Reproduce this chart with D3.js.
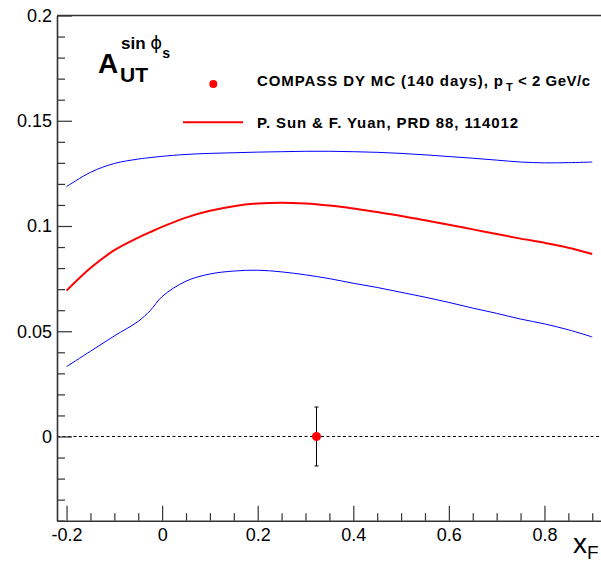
<!DOCTYPE html>
<html>
<head>
<meta charset="utf-8">
<script src="https://cdn.jsdelivr.net/npm/d3@7"></script>
<style>
  html, body { margin: 0; padding: 0; background: #fff; }
  svg { display: block; font-family: "Liberation Sans", Arial, Helvetica, sans-serif; }
</style>
</head>
<body>
<svg id="chart" width="601" height="562"></svg>
<script>
// ---- data ----
const xGrid = [-0.2, -0.15, -0.1, -0.05, -0.025, 0, 0.05, 0.1, 0.15, 0.2, 0.25, 0.3, 0.35, 0.4, 0.45, 0.5, 0.55, 0.6, 0.65, 0.7, 0.75, 0.8, 0.85, 0.9];
const centralCurve = [0.0693, 0.0800, 0.0885, 0.0945, 0.0971, 0.0996, 0.1040, 0.1072, 0.1094, 0.1107, 0.1111, 0.1107, 0.1097, 0.1083, 0.1066, 0.1048, 0.1027, 0.1006, 0.0984, 0.0962, 0.0940, 0.0920, 0.0897, 0.0867];
const upperBand = [0.1187, 0.1255, 0.1297, 0.1318, 0.1325, 0.1331, 0.1340, 0.1345, 0.1348, 0.1351, 0.1353, 0.1355, 0.1355, 0.1353, 0.1350, 0.1345, 0.1338, 0.1330, 0.1322, 0.1313, 0.1304, 0.1300, 0.1301, 0.1304];
const lowerBand = [0.0332, 0.0405, 0.0478, 0.0547, 0.0598, 0.0665, 0.0738, 0.0772, 0.0786, 0.0790, 0.0782, 0.0768, 0.0750, 0.0728, 0.0708, 0.0685, 0.0662, 0.0637, 0.0610, 0.0585, 0.0558, 0.0535, 0.0507, 0.0473];
const pointX = [0.323];
const pointY = [0.0];
const pointErr = [0.014];
const xMajorTicks = [-0.2, 0, 0.2, 0.4, 0.6, 0.8];
const xMinorTicks = [-0.15, -0.1, -0.05, 0.05, 0.1, 0.15, 0.25, 0.3, 0.35, 0.45, 0.5, 0.55, 0.65, 0.7, 0.75, 0.85, 0.9];
const xTickLabels = ["-0.2", "0", "0.2", "0.4", "0.6", "0.8"];
const yMajorTicks = [0, 0.05, 0.1, 0.15, 0.2];
const yMinorTicks = [-0.04, -0.03, -0.02, -0.01, 0.01, 0.02, 0.03, 0.04, 0.06, 0.07, 0.08, 0.09, 0.11, 0.12, 0.13, 0.14, 0.16, 0.17, 0.18, 0.19];
const yTickLabels = ["0", "0.05", "0.1", "0.15", "0.2"];
const legendPointLabel = "COMPASS DY MC (140 days), p";
const legendLineLabel = "P. Sun & F. Yuan, PRD 88, 114012";

(function () {
// ---- layout ----
const svg = d3.select("#chart");
const mLeft = 57, mRight = 601.8, mTop = 15.5, mBottom = 520.7;
const x = d3.scaleLinear().domain([-0.22, 0.92]).range([mLeft, mRight]);
const y = d3.scaleLinear().domain([-0.04, 0.2]).range([mBottom, mTop]);
const axisColor = "#333";
const font = "'Liberation Sans', Arial, Helvetica, sans-serif";

// top frame line
svg.append("line").attr("x1", mLeft).attr("x2", 601).attr("y1", mTop).attr("y2", mTop)
  .attr("stroke", axisColor).attr("stroke-width", 1.6);

// zero dashed line
svg.append("line").attr("x1", mLeft).attr("x2", 601).attr("y1", y(0)).attr("y2", y(0))
  .attr("stroke", "#000").attr("stroke-width", 1).attr("stroke-dasharray", "3,2.5");

// y axis
svg.append("g").attr("transform", `translate(${mLeft},0)`)
  .call(d3.axisLeft(y).tickValues(yMajorTicks).tickSize(-15).tickSizeOuter(0).tickPadding(5)
  .tickFormat((d, i) => yTickLabels[i]));
svg.append("g").attr("transform", `translate(${mLeft},0)`)
  .call(d3.axisLeft(y).tickValues(yMinorTicks).tickSize(-8).tickSizeOuter(0).tickFormat(""))
  .select(".domain").remove();

// x axis
svg.append("g").attr("transform", `translate(0,${mBottom})`)
  .call(d3.axisBottom(x).tickValues(xMajorTicks).tickSize(-15).tickSizeOuter(0).tickPadding(8)
  .tickFormat((d, i) => xTickLabels[i]));
svg.append("g").attr("transform", `translate(0,${mBottom})`)
  .call(d3.axisBottom(x).tickValues(xMinorTicks).tickSize(-7.5).tickSizeOuter(0).tickFormat(""))
  .select(".domain").remove();

svg.selectAll(".domain").attr("stroke", axisColor).attr("stroke-width", 1.6);
svg.selectAll(".tick line").attr("stroke", axisColor).attr("stroke-width", 1.2);
svg.selectAll(".tick text").attr("font-family", font).attr("font-size", 18).attr("fill", "#000");

// curves
const line = d3.line().x(d => x(d[0])).y(d => y(d[1])).curve(d3.curveCatmullRom.alpha(0.5));
const mk = arr => xGrid.map((v, i) => [v, arr[i]]);
svg.append("path").attr("d", line(mk(upperBand))).attr("fill", "none").attr("stroke", "#0000ff").attr("stroke-width", 1);
svg.append("path").attr("d", line(mk(lowerBand))).attr("fill", "none").attr("stroke", "#0000ff").attr("stroke-width", 1);
svg.append("path").attr("d", line(mk(centralCurve))).attr("fill", "none").attr("stroke", "#ff0000").attr("stroke-width", 2);

// data point with error bar
pointX.forEach((px, i) => {
  const cx = x(px), cy = y(pointY[i]);
  const y1 = y(pointY[i] + pointErr[i]), y2 = y(pointY[i] - pointErr[i]);
  svg.append("line").attr("x1", cx).attr("x2", cx).attr("y1", y1).attr("y2", y2).attr("stroke", "#000").attr("stroke-width", 1);
  [y1, y2].forEach(yy => svg.append("line").attr("x1", cx - 2).attr("x2", cx + 2).attr("y1", yy).attr("y2", yy).attr("stroke", "#000").attr("stroke-width", 1));
  svg.append("circle").attr("cx", cx).attr("cy", cy).attr("r", 4.5).attr("fill", "#ff0000");
});

// y title: A_UT^{sin phi_s}
const yt = svg.append("text").attr("font-family", font).attr("font-weight", "bold").attr("fill", "#000");
yt.append("tspan").attr("x", 98).attr("y", 73).attr("font-size", 28).text("A");
yt.append("tspan").attr("x", 120).attr("y", 81.5).attr("font-size", 21).text("UT");
const sup = svg.append("text").attr("font-family", font).attr("font-weight", "bold").attr("fill", "#000");
sup.append("tspan").attr("x", 121).attr("y", 48.5).attr("font-size", 17).text("sin ");
sup.append("tspan").attr("font-size", 18).attr("font-weight", "normal").attr("font-family", "'DejaVu Sans', sans-serif").text("\u03D5");
sup.append("tspan").attr("font-size", 14).attr("dy", 9).text("s");

// x title
const xt = svg.append("text").attr("font-family", font).attr("fill", "#000");
xt.append("tspan").attr("x", 573).attr("y", 553).attr("font-size", 28).text("x");
xt.append("tspan").attr("font-size", 19).attr("dy", 6).text("F");

// legend
svg.append("circle").attr("cx", 213.3).attr("cy", 84).attr("r", 4).attr("fill", "#ff0000");
const lt = svg.append("text").attr("font-family", font).attr("font-weight", "bold").attr("font-size", 15).attr("fill", "#000");
lt.append("tspan").attr("x", 257).attr("y", 85.5).attr("textLength", 246).attr("lengthAdjust", "spacing").text(legendPointLabel);
lt.append("tspan").attr("x", 506).attr("font-size", 11).attr("dy", 5.5).text("T");
lt.append("tspan").attr("x", 518).attr("dy", -5.5).attr("textLength", 72).attr("lengthAdjust", "spacing").text("< 2 GeV/c");
svg.append("line").attr("x1", 183).attr("x2", 243).attr("y1", 122.3).attr("y2", 122.3).attr("stroke", "#ff0000").attr("stroke-width", 2);
svg.append("text").attr("font-family", font).attr("font-weight", "bold").attr("font-size", 15).attr("fill", "#000")
  .attr("x", 257).attr("y", 127.5).attr("textLength", 261).attr("lengthAdjust", "spacing").text(legendLineLabel);
})();
</script>
</body>
</html>
